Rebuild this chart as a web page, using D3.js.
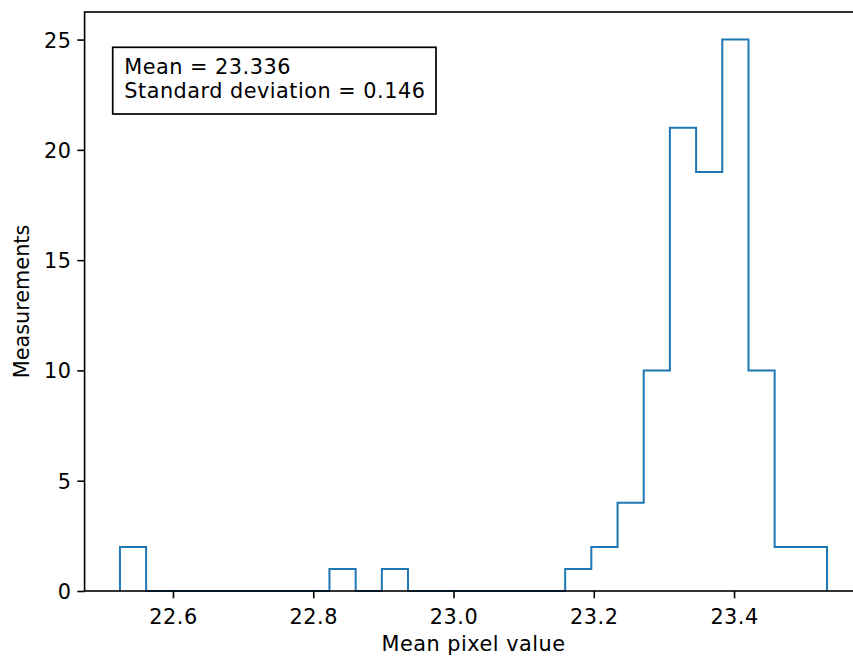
<!DOCTYPE html>
<html>
<head>
<meta charset="utf-8">
<script src="https://cdn.jsdelivr.net/npm/d3@7"></script>
<style>
  html, body { margin: 0; padding: 0; background: #fff; }
  svg { display: block; }
  text { font-family: "DejaVu Sans", sans-serif; fill: #000; }
</style>
</head>
<body>
<div id="chart"></div>
<script>
// Histogram bin edges (mean pixel value) and counts per bin
const binEdges = [
  22.5244, 22.5617, 22.5991, 22.6364, 22.6738, 22.7111, 22.7484,
  22.7858, 22.8231, 22.8605, 22.8978, 22.9351, 22.9725, 23.0098,
  23.0472, 23.0845, 23.1218, 23.1592, 23.1965, 23.2339, 23.2712,
  23.3085, 23.3459, 23.3832, 23.4206, 23.4579, 23.4952, 23.5326
];
const binCounts = [
  2, 0, 0, 0, 0, 0, 0, 0, 1, 0, 1, 0, 0, 0,
  0, 0, 0, 1, 2, 4, 10, 21, 19, 25, 10, 2, 2
];
const xTicks = [22.6, 22.8, 23.0, 23.2, 23.4];
const yTicks = [0, 5, 10, 15, 20, 25];
const statsLines = ["Mean = 23.336", "Standard deviation = 0.146"];
const xTitle = "Mean pixel value";
const yTitle = "Measurements";

const W = 853, H = 657;
const fs = 20.8;
const spacing = 0.5;   // extra tracking for horizontal labels
const plot = { left: 84.6, right: 862.4, top: 12, bottom: 591 };

const svg = d3.select("#chart").append("svg")
  .attr("width", W).attr("height", H);

// 5% padding around the data range, like the default axis margins
const lo = binEdges[0], hi = binEdges[binEdges.length - 1];
const pad = (hi - lo) * 0.05;
const x = d3.scaleLinear().domain([lo - pad, hi + pad]).range([plot.left, plot.right]);
const yMax = d3.max(binCounts) * 1.05;
const y = d3.scaleLinear().domain([0, yMax]).range([plot.bottom, plot.top]);

// Step outline of the histogram
const pts = [[binEdges[0], 0]];
binCounts.forEach((c, i) => {
  pts.push([binEdges[i], c]);
  pts.push([binEdges[i + 1], c]);
});
pts.push([hi, 0]);
svg.append("path")
  .attr("d", d3.line().x(d => x(d[0])).y(d => y(d[1]))(pts))
  .attr("fill", "none")
  .attr("stroke", "#1f77b4")
  .attr("stroke-width", 2)
  .attr("stroke-linejoin", "miter");

// Frame (right edge lies beyond the visible area)
svg.append("rect")
  .attr("x", plot.left).attr("y", plot.top)
  .attr("width", plot.right - plot.left).attr("height", plot.bottom - plot.top)
  .attr("fill", "none").attr("stroke", "#000").attr("stroke-width", 1.6);

// Axes
const xAxis = svg.append("g")
  .attr("transform", `translate(0,${plot.bottom})`)
  .call(d3.axisBottom(x).tickValues(xTicks).tickFormat(d3.format(".1f")).tickSize(7.3).tickSizeOuter(0));
const yAxis = svg.append("g")
  .attr("transform", `translate(${plot.left},0)`)
  .call(d3.axisLeft(y).tickValues(yTicks).tickFormat(d3.format("d")).tickSize(7.3).tickSizeOuter(0));

[xAxis, yAxis].forEach(g => {
  g.select(".domain").remove();
  g.selectAll(".tick line").attr("stroke", "#000").attr("stroke-width", 1.6);
  g.selectAll(".tick text").attr("font-size", fs).attr("font-family", "DejaVu Sans")
    .attr("letter-spacing", spacing);
});
xAxis.selectAll(".tick text").attr("y", 32.5).attr("dy", 0);
yAxis.selectAll(".tick text").attr("x", -13.6 + spacing).attr("dy", "0.36em");

// Axis titles
svg.append("text")
  .attr("x", (plot.left + plot.right) / 2).attr("y", 650.7)
  .attr("text-anchor", "middle").attr("font-size", fs)
  .attr("letter-spacing", spacing)
  .text(xTitle);
svg.append("text")
  .attr("transform", `translate(28.5,${(plot.top + plot.bottom) / 2}) rotate(-90)`)
  .attr("text-anchor", "middle").attr("font-size", fs)
  .text(yTitle);

// Statistics box
svg.append("rect")
  .attr("x", 112.7).attr("y", 47.3).attr("width", 323.3).attr("height", 66.7)
  .attr("fill", "#fff").attr("stroke", "#000").attr("stroke-width", 1.7);
const stats = svg.append("text").attr("font-size", fs).attr("letter-spacing", spacing);
statsLines.forEach((s, i) => {
  stats.append("tspan").attr("x", 124.3).attr("y", 73.5 + i * 24).text(s);
});
</script>
</body>
</html>
